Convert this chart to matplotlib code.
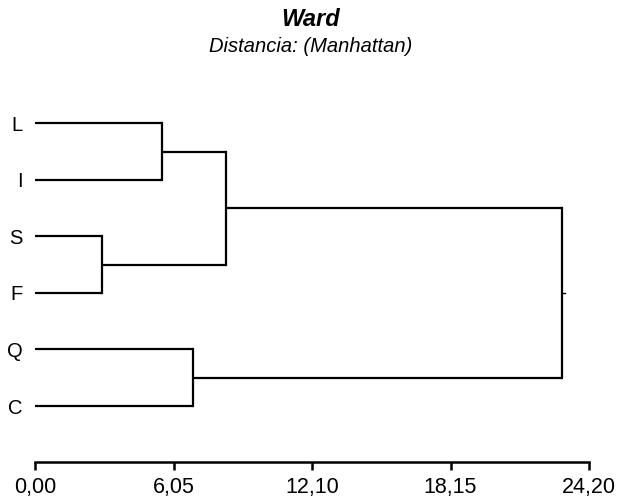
import matplotlib
matplotlib.use("Agg")
import matplotlib.pyplot as plt

plt.rcParams['font.family'] = ['Liberation Sans', 'DejaVu Sans']

# Data
leaf_labels = ['L', 'I', 'S', 'F', 'Q', 'C']
# linkage: (cluster a, cluster b, height); leaves 0..5, new clusters 6..
merge_a = [0, 2, 6, 4, 8]
merge_b = [1, 3, 7, 5, 9]
merge_h = [5.55, 2.93, 8.34, 6.90, 23.02]
tick_vals = [0.00, 6.05, 12.10, 18.15, 24.20]
tick_labels = ['0,00', '6,05', '12,10', '18,15', '24,20']

fig = plt.figure(figsize=(6.21, 4.98), dpi=100)
ax = fig.add_axes([35/621, (498-462)/498, 554/621, (462-95)/498])

node_y = {i: float(i) for i in range(len(leaf_labels))}
node_x = {i: 0.0 for i in range(len(leaf_labels))}
lw = 1.6
col = 'black'
for k, (a, b, h) in enumerate(zip(merge_a, merge_b, merge_h)):
    ya, yb = node_y[a], node_y[b]
    xa, xb = node_x[a], node_x[b]
    ax.plot([xa, h], [ya, ya], color=col, lw=lw, solid_capstyle='butt')
    ax.plot([xb, h], [yb, yb], color=col, lw=lw, solid_capstyle='butt')
    ax.plot([h, h], [ya, yb], color=col, lw=lw, solid_capstyle='projecting')
    nid = len(leaf_labels) + k
    node_y[nid] = (ya + yb) / 2
    node_x[nid] = h

# small stub at root
root = len(leaf_labels) + len(merge_h) - 1
ax.plot([node_x[root], node_x[root] + 0.12], [node_y[root]] * 2, color=col, lw=1.0)

ax.set_xlim(0, 24.2)
ax.set_ylim(5.99, -0.5)
for s in ['top', 'right', 'left']:
    ax.spines[s].set_visible(False)
ax.spines['bottom'].set_linewidth(1.8)
ax.set_xticks(tick_vals)
ax.set_xticklabels(tick_labels, fontsize=15.5)
ax.tick_params(axis='x', direction='out', length=6, width=1.8, pad=5)
ax.set_yticks(range(len(leaf_labels)))
ax.set_yticklabels(leaf_labels, fontsize=14.5)
ax.tick_params(axis='y', length=0, pad=9)
for t in ax.get_xticklines():
    t.set_clip_on(False)

fig.text(0.5, 1 - 19/498, 'Ward', ha='center', va='center', fontsize=17,
         fontweight='bold', fontstyle='italic')
fig.text(0.5, 1 - 47/498, 'Distancia: (Manhattan)', ha='center', va='center',
         fontsize=14.5, fontstyle='italic')

fig.savefig('out.png', dpi=100)
